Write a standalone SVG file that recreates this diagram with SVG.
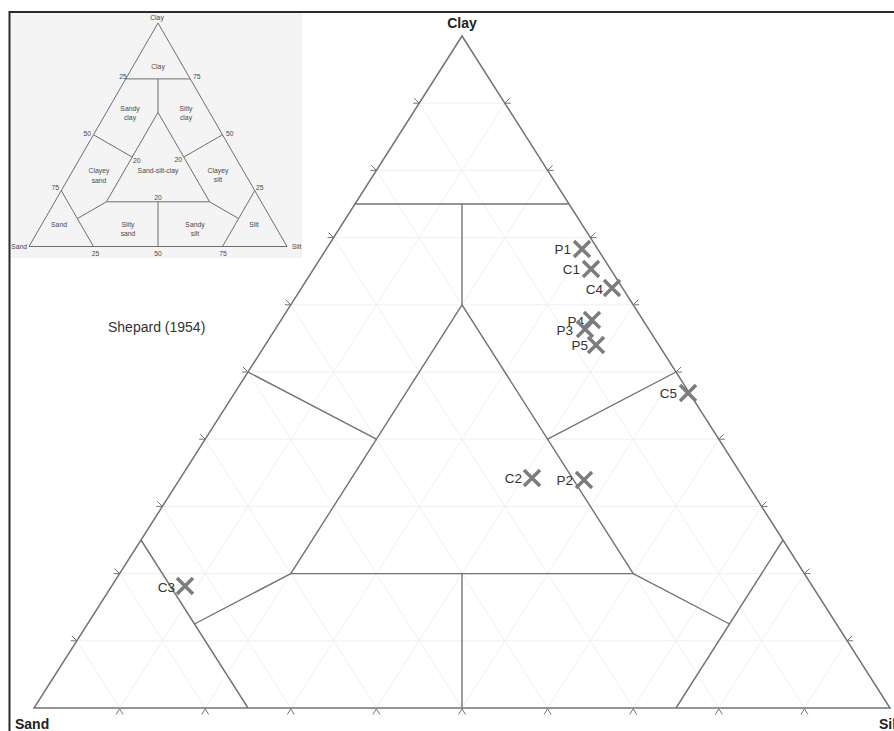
<svg xmlns="http://www.w3.org/2000/svg" xmlns:xlink="http://www.w3.org/1999/xlink" width="894" height="731" viewBox="0 0 894 731">
<style>
.grid{stroke:#f0f0f0;stroke-width:1;fill:none}
.edge{stroke:#737373;stroke-width:1.5;fill:none;stroke-linejoin:miter}
.bnd{stroke:#737373;stroke-width:1.4;fill:none}
.tick{stroke:#737373;stroke-width:1;fill:none}
.ibnd{stroke:#6e6e6e;stroke-width:1;fill:none}
.itxt{font-family:"Liberation Sans",Arial,sans-serif;font-size:6.8px;fill:#4a4a4a;text-anchor:middle}
.ax{font-family:"Liberation Sans",Arial,sans-serif;font-size:14px;font-weight:bold;fill:#222}
.lbl{font-family:"Liberation Sans",Arial,sans-serif;font-size:13.5px;fill:#333;text-anchor:end}
.mk{stroke:#7c7c7c;stroke-width:3.5;fill:none;stroke-linecap:butt}
</style>
<defs>
<path id="tl" class="tick" d="M-5,-5 L0,0 L-6,0"/>
<path id="tr" class="tick" d="M5,-5 L0,0 L6,0"/>
<path id="tb" class="tick" d="M-3.5,6.5 L0,0.8 L3.5,6.5"/>
<g id="xm"><path class="mk" d="M-8,-8 L8,8 M-8,8 L8,-8"/></g>
</defs>
<rect x="0" y="0" width="894" height="731" fill="#fff"/>

<g id="grid">
<path class="grid" d="M76.8,640.8H847.2M119.6,573.6H804.4M162.4,506.4H761.6M205.2,439.2H718.8M248,372H676M290.8,304.8H633.2M333.6,237.6H590.4M376.4,170.4H547.6M419.2,103.2H504.8"/>
<path class="grid" d="M119.6,708L504.8,103.2M205.2,708L547.6,170.4M290.8,708L590.4,237.6M376.4,708L633.2,304.8M462,708L676,372M547.6,708L718.8,439.2M633.2,708L761.6,506.4M718.8,708L804.4,573.6M804.4,708L847.2,640.8"/>
<path class="grid" d="M119.6,708L76.8,640.8M205.2,708L119.6,573.6M290.8,708L162.4,506.4M376.4,708L205.2,439.2M462,708L248,372M547.6,708L290.8,304.8M633.2,708L333.6,237.6M718.8,708L376.4,170.4M804.4,708L419.2,103.2"/>
</g>

<g id="ticks">
<use xlink:href="#tl" x="419.2" y="103.2"/><use xlink:href="#tl" x="376.4" y="170.4"/><use xlink:href="#tl" x="333.6" y="237.6"/><use xlink:href="#tl" x="290.8" y="304.8"/><use xlink:href="#tl" x="248" y="372"/><use xlink:href="#tl" x="205.2" y="439.2"/><use xlink:href="#tl" x="162.4" y="506.4"/><use xlink:href="#tl" x="119.6" y="573.6"/><use xlink:href="#tl" x="76.8" y="640.8"/>
<use xlink:href="#tr" x="504.8" y="103.2"/><use xlink:href="#tr" x="547.6" y="170.4"/><use xlink:href="#tr" x="590.4" y="237.6"/><use xlink:href="#tr" x="633.2" y="304.8"/><use xlink:href="#tr" x="676" y="372"/><use xlink:href="#tr" x="718.8" y="439.2"/><use xlink:href="#tr" x="761.6" y="506.4"/><use xlink:href="#tr" x="804.4" y="573.6"/><use xlink:href="#tr" x="847.2" y="640.8"/>
<use xlink:href="#tb" x="119.6" y="708"/><use xlink:href="#tb" x="205.2" y="708"/><use xlink:href="#tb" x="290.8" y="708"/><use xlink:href="#tb" x="376.4" y="708"/><use xlink:href="#tb" x="462" y="708"/><use xlink:href="#tb" x="547.6" y="708"/><use xlink:href="#tb" x="633.2" y="708"/><use xlink:href="#tb" x="718.8" y="708"/><use xlink:href="#tb" x="804.4" y="708"/>
</g>

<g id="triangle">
<path class="edge" d="M462,36 L34,708 L890,708 Z"/>
</g>

<g id="connectors">
<path class="bnd" d="M355,204 H569"/>
<path class="bnd" d="M462,204 V304.8"/>
<path class="bnd" d="M462,304.8 L290.8,573.6 L633.2,573.6 Z"/>
<path class="bnd" d="M248,372 L376.4,439.2"/>
<path class="bnd" d="M676,372 L547.6,439.2"/>
<path class="bnd" d="M141,540 L248,708"/>
<path class="bnd" d="M676,708 L783,540"/>
<path class="bnd" d="M290.8,573.6 L194.5,624"/>
<path class="bnd" d="M633.2,573.6 L729.5,624"/>
<path class="bnd" d="M462,573.6 V708"/>
</g>

<g id="axis-labels">
<text class="ax" x="462" y="28" text-anchor="middle">Clay</text>
<text class="ax" x="15" y="729">Sand</text>
<text class="ax" x="879" y="729">Silt</text>
</g>

<g id="title">
<text x="108" y="332" style="font-family:'Liberation Sans',Arial,sans-serif;font-size:14px;fill:#333">Shepard (1954)</text>
</g>

<g id="P1"><use xlink:href="#xm" x="582" y="249"/><text class="lbl" x="571" y="254">P1</text></g>
<g id="C1"><use xlink:href="#xm" x="591" y="269"/><text class="lbl" x="580" y="274">C1</text></g>
<g id="C4"><use xlink:href="#xm" x="612" y="288"/><text class="lbl" x="603" y="293.5">C4</text></g>
<g id="P4"><use xlink:href="#xm" x="592" y="320"/><text class="lbl" x="584" y="326">P4</text></g>
<g id="P3"><use xlink:href="#xm" x="585" y="329"/><text class="lbl" x="573" y="335">P3</text></g>
<g id="P5"><use xlink:href="#xm" x="596" y="345"/><text class="lbl" x="588" y="350">P5</text></g>
<g id="C5"><use xlink:href="#xm" x="688" y="393"/><text class="lbl" x="677" y="398">C5</text></g>
<g id="C2"><use xlink:href="#xm" x="532" y="478"/><text class="lbl" x="522" y="483">C2</text></g>
<g id="P2"><use xlink:href="#xm" x="584" y="480"/><text class="lbl" x="573" y="485">P2</text></g>
<g id="C3"><use xlink:href="#xm" x="185" y="586"/><text class="lbl" x="175" y="591.5">C3</text></g>

<g id="inset">
<rect x="10" y="12" width="292" height="246" fill="#f4f4f4"/>
<path class="ibnd" d="M158,23 L29,246.5 L287,246.5 Z"/>
<path class="ibnd" d="M125.75,78.9 H190.25 M158,78.9 V112.4 M158,112.4 L106.4,201.8 L209.6,201.8 Z M93.5,134.75 L132.2,157.1 M222.5,134.75 L183.8,157.1 M61.25,190.6 L93.5,246.5 M222.5,246.5 L254.75,190.6 M106.4,201.8 L77.4,218.6 M209.6,201.8 L238.6,218.6 M158,201.8 V246.5"/>
<text class="itxt" x="157" y="20">Clay</text>
<text class="itxt" x="158" y="69">Clay</text>
<text class="itxt" x="123" y="79" text-anchor="end">25</text>
<text class="itxt" x="193" y="79" style="text-anchor:start">75</text>
<text class="itxt" x="130" y="111">Sandy</text>
<text class="itxt" x="130" y="120">clay</text>
<text class="itxt" x="186" y="111">Silty</text>
<text class="itxt" x="186" y="120">clay</text>
<text class="itxt" x="91" y="136" style="text-anchor:end">50</text>
<text class="itxt" x="226" y="136" style="text-anchor:start">50</text>
<text class="itxt" x="133" y="163" style="text-anchor:start">20</text>
<text class="itxt" x="182" y="162" style="text-anchor:end">20</text>
<text class="itxt" x="158" y="173">Sand-silt-clay</text>
<text class="itxt" x="99" y="173">Clayey</text>
<text class="itxt" x="99" y="183">sand</text>
<text class="itxt" x="218" y="173">Clayey</text>
<text class="itxt" x="218" y="182">silt</text>
<text class="itxt" x="59" y="190" style="text-anchor:end">75</text>
<text class="itxt" x="256" y="190" style="text-anchor:start">25</text>
<text class="itxt" x="158" y="200">20</text>
<text class="itxt" x="59" y="227">Sand</text>
<text class="itxt" x="128" y="227">Silty</text>
<text class="itxt" x="128" y="236">sand</text>
<text class="itxt" x="195" y="227">Sandy</text>
<text class="itxt" x="195" y="236">silt</text>
<text class="itxt" x="254" y="227">Silt</text>
<text class="itxt" x="27" y="249" style="text-anchor:end">Sand</text>
<text class="itxt" x="292" y="249" style="text-anchor:start">Silt</text>
<text class="itxt" x="95.5" y="256">25</text>
<text class="itxt" x="158" y="256">50</text>
<text class="itxt" x="223" y="256">75</text>
</g>

<g id="border">
<path d="M9.5,731 V12 H894" fill="none" stroke="#2a2a2a" stroke-width="2"/>
</g>
</svg>
